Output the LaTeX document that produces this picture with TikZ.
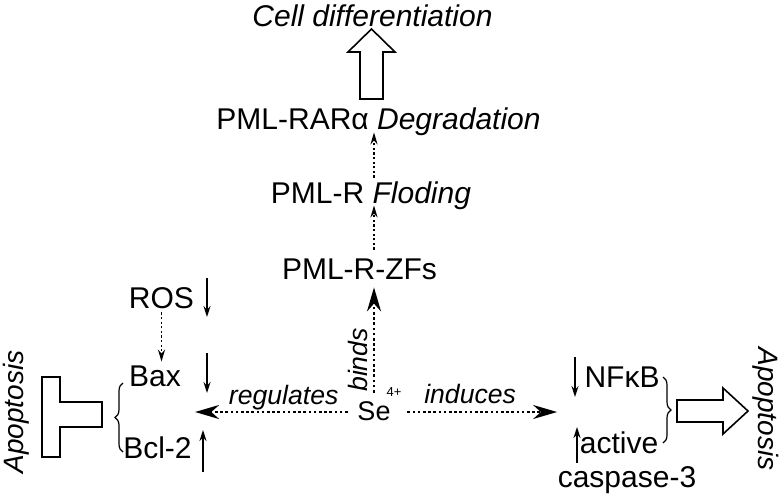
\documentclass[tikz,border=0pt]{standalone}
\usepackage{fontspec}
\setmainfont{Liberation Sans}
\usetikzlibrary{arrows.meta,decorations.pathreplacing}
\tikzset{
  txt/.style={inner sep=0pt,text height=11pt,text depth=3pt,anchor=base,font=\fontsize{15}{18}\selectfont},
  lbl/.style={inner sep=0pt,text height=9.5pt,text depth=2.5pt,font=\fontsize{13.3}{16}\selectfont\itshape},
  dotarr/.style={line width=1.1pt,dash pattern=on 1.3pt off 1.3pt,-{Stealth[length=12pt,width=7pt]}},
  smalldot/.style={line width=0.9pt,dash pattern=on 1.1pt off 1.2pt,-{Stealth[length=6pt,width=3.5pt]}},
  updn/.style={line width=0.7pt,-{Stealth[length=5.5pt,width=3.5pt]}},
  hollow/.style={draw,line width=0.8pt,line join=miter},
  brc/.style={decorate,decoration={brace,amplitude=4pt},line width=0.6pt}
}
\begin{document}
\begin{tikzpicture}[x=0.5pt,y=-0.5pt]
    \useasboundingbox (0,0) rectangle (780,499);
    % PML-RAR chain
    \node[txt,font=\fontsize{15}{18}\selectfont\itshape] (cell) at (372.5,26) {Cell differentiation};
    \node[txt] (deg) at (378.5,129) {PML-RARα \textit{Degradation}};
    \node[txt] (flod) at (371,203) {PML-R \textit{Floding}};
    \node[txt] (zfs) at (359.5,279) {PML-R-ZFs};
    \node[txt,font=\fontsize{13.5}{16}\selectfont] (se) at (374,420) {Se};
    \node[inner sep=0pt,font=\fontsize{6.5}{8}\selectfont] (chg) at (394,392) {4+};
    % left side
    \node[txt] (ros) at (161.5,308) {ROS};
    \node[txt] (bax) at (155,386) {Bax};
    \node[txt] (bcl) at (157.5,458) {Bcl-2};
    \node[txt,font=\fontsize{14}{17}\selectfont\itshape,rotate=90] (apoL) at (24,412) {Apoptosis};
    % right side
    \node[txt] (nfkb) at (622,387) {NFκB};
    \node[txt] (act) at (619,453) {active};
    \node[txt] (casp) at (627,487) {caspase-3};
    \node[txt,font=\fontsize{14}{17}\selectfont\itshape,rotate=-90] (apoR) at (758,409) {Apoptosis};

    \draw[hollow] (360,99) -- (360,52) -- (348,52) -- (371.5,29) -- (395,52) -- (383,52) -- (383,99) -- cycle;
    \draw[smalldot,shorten <=1.5pt,shorten >=-1.5pt] (flod.north -| se.north) -- (deg.south -| se.north);
    \draw[smalldot,shorten <=3.5pt,shorten >=-2pt] (zfs.north -| se.north) -- (flod.south -| se.north);
    \draw[dotarr,shorten <=2.5pt,shorten >=1pt] (se.north) -- (se.north |- zfs.south)
        node[lbl,pos=0.336,rotate=90,anchor=south] {binds};
    \draw[dotarr,shorten <=4.75pt,shorten >=1.5pt] (se.west) -- (se.west -| bcl.east)
        node[lbl,pos=0.445,above=0.5pt] {regulates};
    \draw[dotarr,shorten <=8.25pt,shorten >=13.5pt] (se.east) -- (se.east -| nfkb.west)
        node[lbl,pos=0.41,above=1pt] {induces};
    \draw[smalldot,shorten <=-1pt,shorten >=1pt] (ros.south) -- (ros.south |- bax.north);

    % up / down marks
    \draw[updn] (207,278) -- (207,317);
    \draw[updn] (207,353) -- (207,393);
    \draw[updn] (203,472) -- (203,430);
    \draw[updn] (575,357) -- (575,397);
    \draw[updn] (577,463) -- (577,427);

    % braces and block arrows
    \draw[brc] (123,452) -- (123,383);
    \draw[brc] (663,377) -- (663,443);
    \draw[hollow] (42,377) -- (60,377) -- (60,402) -- (102,402) -- (102,427) -- (60,427) -- (60,457) -- (42,457) -- cycle;
    \draw[hollow] (677,400) -- (723,400) -- (723,388) -- (748,411) -- (723,434) -- (723,422) -- (677,422) -- cycle;
\end{tikzpicture}
\end{document}
